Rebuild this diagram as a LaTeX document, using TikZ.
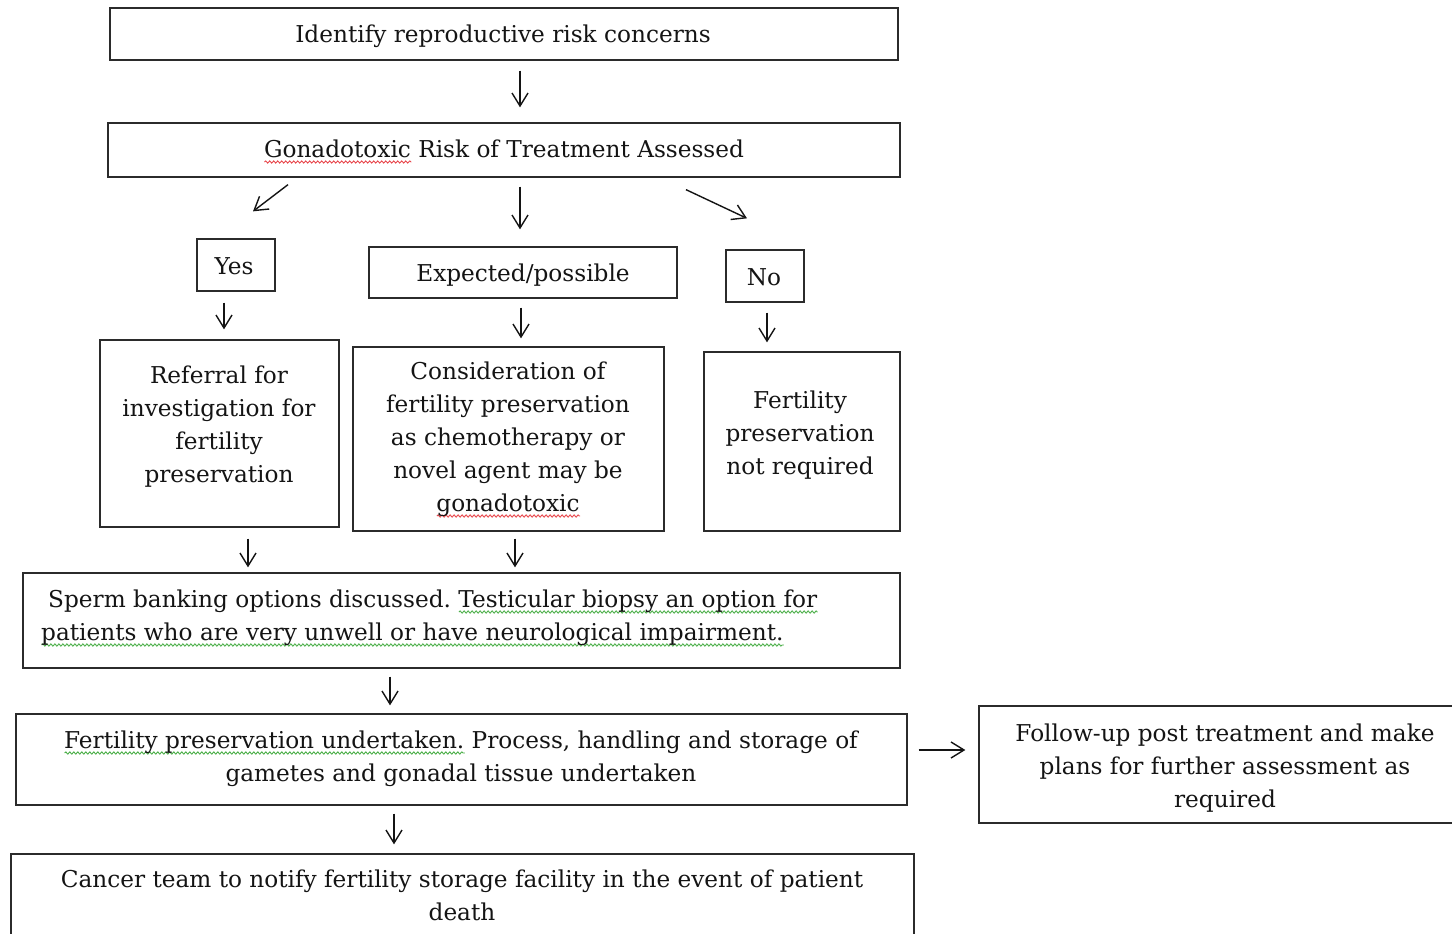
\documentclass[tikz,border=0pt]{standalone}
\usepackage{fontspec}
\setmainfont{DejaVu Serif}
\usetikzlibrary{arrows.meta,decorations.pathmorphing}
\definecolor{ink}{HTML}{141414}
\definecolor{edge}{HTML}{2B2B2B}
\definecolor{sqred}{HTML}{E8474C}
\definecolor{sqgreen}{HTML}{4DB04A}
\frenchspacing
\newsavebox\sqbox
\newdimen\sqwd
\newcommand\wavy[2]{\sbox\sqbox{#2}\sqwd=\wd\sqbox\leavevmode\rlap{\tikz[baseline=0pt,x=1pt,y=1pt]\draw[#1,line width=0.9pt,decorate,decoration={snake,amplitude=1.1pt,segment length=4pt}] (0pt,-5pt) -- (\sqwd,-5pt);}\usebox\sqbox}
\newcommand\redsq[1]{\wavy{sqred}{#1}}
\newcommand\greensq[1]{\wavy{sqgreen}{#1}}
\newcommand\clines[1]{\vtop{\halign{\hfil##\hfil\cr#1\crcr}}}
\newcommand\llines[1]{\vtop{\halign{##\hfil\cr#1\crcr}}}
\tikzset{
  box/.style={draw=edge, line width=1.3pt, inner sep=0pt, fill=white},
  txt/.style={font=\fontsize{23.2}{33}\selectfont\frenchspacing, text=ink, inner sep=0pt, anchor=base},
  arr/.style={draw=ink, line width=1.4pt, -{Straight Barb[length=13pt,width=16pt]}}
}
\begin{document}
\begin{tikzpicture}[x=1pt,y=-1pt]
\useasboundingbox (0,0) rectangle (1452,934);
\fill[white] (0,0) rectangle (1452,934);
\clip (0,0) rectangle (1452,934);
% boxes
\node[box, minimum width=788pt, minimum height=52pt] (b1) at (504,34) {};
\node[box, minimum width=792pt, minimum height=54pt] (b2) at (504,150) {};
\node[box, minimum width=78pt, minimum height=52pt] (yes) at (236,265) {};
\node[box, minimum width=308pt, minimum height=51pt] (exp) at (523,272.5) {};
\node[box, minimum width=78pt, minimum height=52pt] (no) at (765,276) {};
\node[box, minimum width=239pt, minimum height=187pt] (ref) at (219.5,433.5) {};
\node[box, minimum width=311pt, minimum height=184pt] (con) at (508.5,439) {};
\node[box, minimum width=196pt, minimum height=179pt] (fnr) at (802,441.5) {};
\node[box, minimum width=877pt, minimum height=95pt] (sperm) at (461.5,620.5) {};
\node[box, minimum width=891pt, minimum height=91pt] (und) at (461.5,759.5) {};
\node[box, minimum width=491pt, minimum height=117pt] (fol) at (1224.5,764.5) {};
\node[box, minimum width=903pt, minimum height=96pt] (can) at (462.5,902) {};
% texts
\node[txt] (t1) at (503,43) {Identify reproductive risk concerns};
\node[txt] (t2) at (504,157) {\redsq{Gonadotoxic} Risk of Treatment Assessed};
\node[txt] (ty) at (234,274) {Yes};
\node[txt] (te) at (523,281) {Expected/possible};
\node[txt] (tn) at (764,285) {No};
\node[txt] (tr) at (219,383) {\clines{Referral for\cr investigation for\cr fertility\cr preservation}};
\node[txt] (tc) at (508,379) {\clines{Consideration of\cr fertility preservation\cr as chemotherapy or\cr novel agent may be\cr \redsq{gonadotoxic}}};
\node[txt] (tf) at (800,408) {\clines{Fertility\cr preservation\cr not required}};
\node[txt, anchor=base west] (ts) at (41,607) {\llines{\hspace*{7pt}Sperm banking options discussed. \greensq{Testicular biopsy an option for}\cr \greensq{patients who are very unwell or have neurological impairment.}}};
\node[txt] (tu) at (461,748) {\clines{\greensq{Fertility preservation undertaken.} Process, handling and storage of\cr gametes and gonadal tissue undertaken}};
\node[txt] (tfo) at (1225,741) {\clines{Follow-up post treatment and make\cr plans for further assessment as\cr required}};
\node[txt] (tca) at (462,887) {\clines{Cancer team to notify fertility storage facility in the event of patient\cr death}};
% arrows
\draw[arr] ([xshift=16pt,yshift=-10pt]b1.south) -- ([xshift=16pt,yshift=15pt]b2.north);
\draw[arr] ([xshift=-216pt,yshift=-7pt]b2.south) -- ([xshift=17pt,yshift=27pt]yes.north);
\draw[arr] ([xshift=16pt,yshift=-9pt]b2.south) -- ([xshift=-3pt,yshift=17pt]exp.north);
\draw[arr] ([xshift=182pt,yshift=-12pt]b2.south) -- ([xshift=-18pt,yshift=31pt]no.north);
\draw[arr] ([xshift=-12pt,yshift=-11pt]yes.south) -- ([xshift=4.5pt,yshift=10pt]ref.north);
\draw[arr] ([xshift=-2pt,yshift=-9pt]exp.south) -- ([xshift=12.5pt,yshift=8pt]con.north);
\draw[arr] ([xshift=2pt,yshift=-10pt]no.south) -- ([xshift=-35pt,yshift=9pt]fnr.north);
\draw[arr] ([xshift=28.5pt,yshift=-11pt]ref.south) -- ([xshift=-213.5pt,yshift=5pt]sperm.north);
\draw[arr] ([xshift=6.5pt,yshift=-7pt]con.south) -- ([xshift=53.5pt,yshift=5pt]sperm.north);
\draw[arr] ([xshift=-71.5pt,yshift=-8pt]sperm.south) -- ([xshift=-71.5pt,yshift=8pt]und.north);
\draw[arr] ([xshift=11pt,yshift=9.5pt]und.east) -- ([xshift=-13pt,yshift=14.5pt]fol.west);
\draw[arr] ([xshift=-67.5pt,yshift=-8pt]und.south) -- ([xshift=-68.5pt,yshift=9pt]can.north);
\end{tikzpicture}
\end{document}
